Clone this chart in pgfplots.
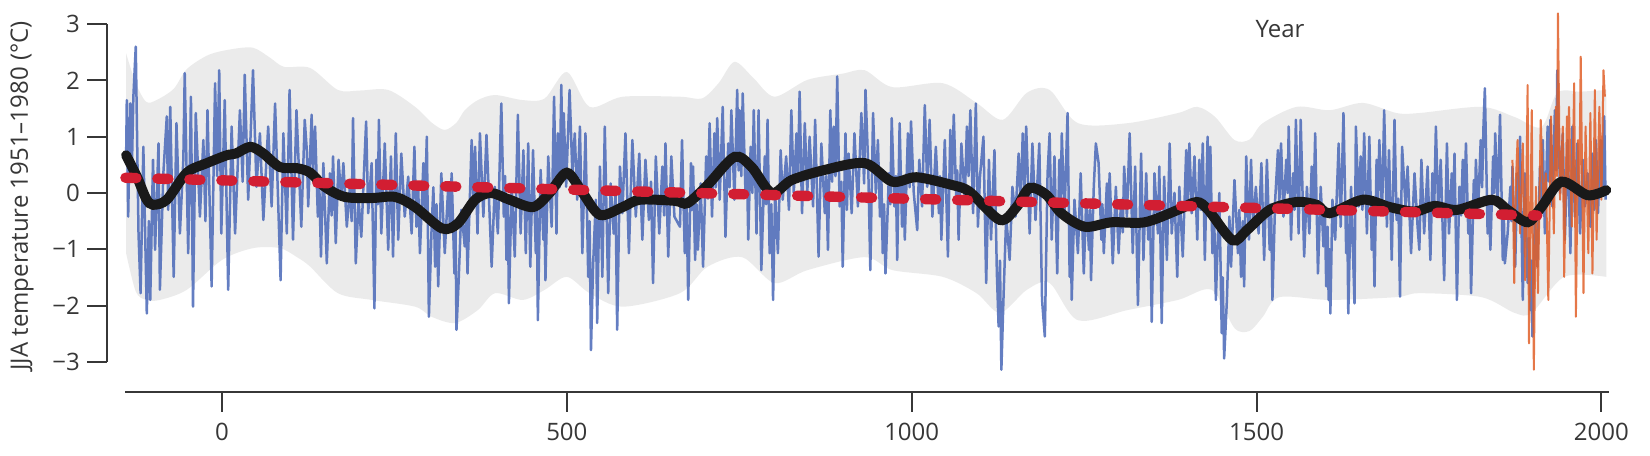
\documentclass[border=0pt]{standalone}
\usepackage{pgfplots}
\pgfplotsset{compat=1.18}
\usepgfplotslibrary{fillbetween}
\usepackage{fontspec}
\setmainfont{Open Sans}
\definecolor{txt}{RGB}{55,55,55}
\definecolor{blueline}{RGB}{78,108,186}
\definecolor{orangeline}{RGB}{225,95,40}
\definecolor{band}{RGB}{235,235,235}
\definecolor{smoothline}{RGB}{25,25,25}
\definecolor{trendred}{RGB}{210,30,50}
\begin{document}
\begin{tikzpicture}
\begin{axis}[
  scale only axis, width=751pt, height=196pt,
  xmin=-166.7, xmax=2011, ymin=-3.535, ymax=3.428,
  clip=false,
  axis lines*=left,
  axis line style={draw=none},
  tick align=outside,
  major tick length=10pt,
  every tick/.style={line width=1pt, color=txt},
  xtick={0,500,1000,1500,2000},
  xticklabels={0,500,1000,1500,2000},
  ytick={-3,-2,-1,0,1,2,3},
  yticklabels={−3,−2,−1,0,1,2,3},
  tick label style={font=\fontsize{12}{14}\selectfont, text=txt},
  xticklabel style={yshift=-2pt},
  ylabel={JJA temperature 1951–1980 (°C)},
  every axis y label/.style={at={(axis description cs:-0.0566,0.5)}, rotate=90, anchor=center, font=\fontsize{12}{14}\selectfont, text=txt},
]
% uncertainty band
\addplot[name path=upper, draw=none, smooth] coordinates {
(-139,2.48) (-125,1.95) (-110,1.62) (-95,1.65) (-70,1.85) (-51,2.20) (-20,2.45) (12,2.55) (45,2.58) (70,2.40) (90,2.24) (128,2.22) (168,1.83) (200,1.82) (241,1.83) (280,1.53) (304,1.25) (323,1.12) (340,1.25) (352,1.47) (371,1.65) (396,1.74) (436,1.65) (468,1.68) (500,2.15) (533,1.53) (581,1.71) (664,1.71) (696,1.68) (720,1.95) (743,2.33) (770,2.05) (801,1.71) (849,2.01) (900,2.12) (932,2.18) (972,1.88) (1045,1.95) (1094,1.60) (1132,1.30) (1167,1.78) (1200,1.83) (1241,1.24) (1313,1.24) (1386,1.42) (1414,1.53) (1440,1.35) (1468,0.94) (1490,0.95) (1509,1.24) (1558,1.53) (1606,1.47) (1654,1.60) (1703,1.42) (1736,1.42) (1826,1.53) (1874,1.35) (1913,1.17) (1936,1.78) (1970,1.80) (2007,1.83)
};
\addplot[name path=lower, draw=none, smooth] coordinates {
(-139,-1.07) (-125,-1.75) (-110,-1.90) (-90,-1.90) (-51,-1.72) (0,-1.19) (45,-0.98) (84,-0.98) (110,-1.15) (128,-1.31) (168,-1.78) (217,-1.90) (280,-2.02) (304,-2.20) (338,-2.31) (371,-2.08) (396,-1.78) (436,-1.90) (468,-1.72) (500,-1.49) (533,-1.78) (581,-2.02) (664,-1.78) (704,-1.31) (754,-1.14) (801,-1.60) (849,-1.37) (932,-1.14) (972,-1.37) (1045,-1.49) (1094,-1.78) (1128,-2.13) (1167,-1.72) (1200,-1.60) (1241,-2.26) (1313,-2.08) (1386,-1.90) (1435,-1.72) (1468,-2.40) (1490,-2.45) (1509,-2.20) (1533,-1.85) (1606,-1.90) (1703,-1.85) (1736,-1.78) (1826,-1.85) (1874,-2.13) (1899,-2.13) (1946,-1.49) (2007,-1.49)
};
\addplot[band, draw=none] fill between[of=upper and lower];
% reconstruction (annual)
\addplot[blueline, line width=1.25pt, opacity=0.88, line join=round] coordinates {
(-139,0.6) (-138,1.65) (-136,-0.42) (-133,1.59) (-131,0.2) (-128.5,1.7) (-125,2.60) (-121,-0.72) (-118,-1.78) (-114,0.82) (-109,-2.14) (-106,-0.5) (-104,-1.90) (-100,0.59) (-97,-1.01) (-92,0.88) (-90,-1.72) (-85,0.35) (-80,1.36) (-78,-0.3) (-75,1.53) (-70,-1.49) (-66,1.24) (-61,-0.72) (-56,0.6) (-54,2.13) (-49,-1.07) (-45,1.71) (-42,-2.02) (-38,1.42) (-32,-0.42) (-27,0.94) (-24,-0.5) (-21,1.47) (-15,-1.66) (-10,1.95) (-7,0.3) (-4,2.18) (-1,-0.72) (4,1.65) (9,-1.72) (14,1.18) (19,-0.72) (26,1.47) (30,0.2) (33,2.10) (38,-0.12) (45,2.18) (50,0.11) (55,1.06) (60,-0.48) (67,1.18) (72,-0.24) (77,1.59) (85,-1.55) (89,1.06) (94,-0.72) (98,1.83) (103,-0.83) (108,1.47) (115,-0.60) (120,1.30)
(123,0.76) (125,-0.24) (130,1.39) (132,0.3) (135,1.18) (139,-0.42) (141,0.2) (143.5,-1.13) (147,0.53) (152,-1.25) (156.5,0.35) (159,-0.4) (161,0.65) (165,-0.89) (169,0.59) (173,-0.12) (176,0.53) (181,-0.60) (185.5,0.11) (188,-0.5) (190,1.33) (194,-1.25) (198,-0.12) (202,-0.78) (209,1.27) (212,-0.36) (217,0.53) (221,-2.05) (224,0.59) (226,-0.2) (227.5,1.30) (231,-0.72) (236,0.88) (241,-1.01) (245,0.65) (248,-1.13) (252,1.06) (255.5,-0.83) (260,0.70) (265,-0.42) (270,0.29) (275,-0.72) (279,0.82) (282,-0.60) (284.5,0.1) (287,-1.07) (292,0.53) (294,-0.3) (297,1.00) (300,-2.20) (304,-0.60) (306.5,0.1) (309,-1.31) (311,-0.2) (313.5,-1.66) (318,0.35) (323,-1.07) (328,0.11) (330.5,-0.6) (333,0.35) (337,-1.43) (338.5,-0.5) (340,-2.43) (343,-1.60) (347,-0.30) (352,-0.95) (354,-0.3) (356,-1.43) (362,0.94) (364.5,-0.2) (367,0.82) (370.5,-0.72) (374,1.06) (379,-0.42) (383.5,1.03)
(391,-1.31) (395.5,0.11) (400,-0.72) (405,1.59) (408.6,-0.42) (410.5,0.3) (412.5,-1.19) (414.5,-0.2) (416,-1.96) (420,0.11) (424.5,-1.13) (429,1.39) (433,-0.72) (437,0.76) (440.5,-1.07) (444,0.88) (447,-1.31) (451,0.76) (455,-1.07) (456.5,-0.3) (458,-2.26) (462,0.41) (466,-0.83) (467.5,-0.2) (469,-1.55) (473,0.65) (478,-0.60) (481.5,1.71) (485,-0.72) (487,1.06) (489.5,0.1) (492,1.92) (494,0.3) (495.5,1.42) (499,0.11) (504,1.83) (508,0.35) (511.5,1.06) (515,-0.12) (519,1.18) (522.5,-1.07) (527,1.06) (531,-1.49) (533,-0.5) (535,-2.79) (538,-1.31) (542,-0.12) (544,-2.31) (548,0.47) (551.5,-1.49) (555,1.18) (560,-1.78) (563.5,0.17) (568,-0.72) (570.5,0.0) (573,-2.43) (577,0.47) (580.5,-0.36) (585,1.06) (590,-1.07) (595,0.94) (600,-0.42) (605,0.70) (609.5,-0.83) (614,0.59) (619,-0.48) (622,0.2) (625,-1.60) (629,0.65) (634,-0.72) (638.5,0.47) (641,-0.4) (643,0.88) (647,-1.13) (651.5,0.65) (656,-0.42)
(664,-0.60) (667,0.94) (671,-1.07) (673.5,-0.1) (676,-1.90) (680,0.53) (681.5,-0.3) (683,0.47) (686,-1.19) (688,-0.2) (690,-1.01) (694,0.17) (697.5,-1.31) (702,0.65) (704.5,-0.1) (707,1.24) (710.5,-0.42) (714,1.06) (716,0.1) (718,1.33) (721.6,-0.12) (726,1.53) (730,-0.78) (734,0.88) (736,0.1) (738.5,1.47) (743,-0.12) (747,1.83) (749,0.4) (750.6,1.47) (753,0.3) (755,1.77) (759,0) (761,0.6) (763,-0.83) (766.5,0.82) (769,0) (771,1.47) (775,-0.72) (778,1.47) (782,-1.37) (787,0.65) (789,-0.2) (791,1.30) (794,-1.07) (796.5,-0.2) (799,-1.90) (802,0) (806,-1.07) (810,0.76) (813,-0.12) (818,0.65) (822,-0.3) (825.5,1.47) (829,0) (833,1.06) (835,0.2) (837.5,1.80) (841,-0.36) (845,1.24) (848.6,0) (852,1.0) (857,-0.24) (860,1.30) (865,-1.13) (869,0.88) (874,-0.36) (876,0.3) (878.6,-1.01) (882,1.47) (884.5,0.2) (887,1.18) (889.5,0.3) (892,2.07) (895.5,-0.24) (898,0.2) (900,-1.31) (904,1.06) (906,-0.3) (908.5,0.70) (913,-0.36) (917,1.06) (922,-0.24) (927,1.42) (931,0.17)
(933,1.83) (937,0.47) (940,-1.37) (944,1.42) (948,0) (951,0.94) (954,-0.42) (956,0.3) (958,-1.07) (960,-0.2) (962,-1.43) (967,0.35) (969,-0.2) (971,1.33) (975,-0.24) (977,0.3) (979,-1.19) (982.5,1.24) (986,-0.60) (988,0.2) (990,-0.83) (994.5,1.06) (997,0.1) (999,1.27) (1003,0) (1008,-0.66) (1011,0.59) (1015,-0.24) (1019,1.56) (1022.5,0.11) (1026,1.30) (1030,-0.42) (1035,0.82) (1039.5,-0.36) (1041,0.3) (1043,-0.83) (1048,0.94) (1052.5,-1.13) (1056,1.12) (1058.5,0.2) (1061,1.39) (1064.6,-0.12) (1066,0.4) (1068,-0.83) (1072,0.88) (1077,-0.12) (1080,1.18) (1082.5,0.3) (1085,1.47) (1089,-0.36) (1093,1.59) (1096,-0.60) (1099,0.29) (1104,1.0) (1108,-1.60) (1112,0.59) (1115,-0.83) (1120,0.76) (1123.5,-1.43) (1126,-2.37) (1128,-1.2) (1130,-3.14) (1133,-1.90) (1137,-0.42) (1142,-1.19) (1146,0.11) (1150.5,-0.42) (1155,0.70) (1158,-0.2) (1161,1.06) (1163.5,0.1) (1166,1.18) (1171,-0.72) (1175,0.88) (1179.5,-0.48) (1185,0.88) (1189,-1.90) (1193,-2.55) (1197,0.35)
(1200,1.06) (1203,-0.83) (1207,0.65) (1211,-1.43) (1214,0.59) (1216,-0.1) (1217.6,1.06) (1221.5,-0.42) (1226,1.42) (1229,-1.49) (1230.5,-0.5) (1232,-1.90) (1236,-0.12) (1241,-1.07) (1245,0.35) (1249.5,-1.43) (1253,-0.12) (1257,-1.01) (1258.5,-0.3) (1260,-1.55) (1264,0.11) (1267,0.88) (1271,0.53) (1275,-0.83) (1276.5,-0.2) (1278.5,-1.07) (1283,0.17) (1285,-0.5) (1287,0.35) (1291.5,-1.25) (1296,0.11) (1300,-1.07) (1303.6,-0.12) (1306,-0.7) (1308,0.47) (1312,-0.42) (1316,1.06) (1320.5,-1.07) (1324,0.47) (1328,-1.99) (1332.6,0.70) (1336,-1.19) (1340,0.35) (1343,-0.83) (1345.5,-0.2) (1348,-2.29) (1352,0.35) (1357,-0.72) (1359,0.47) (1362.5,-2.31) (1366,0.29) (1370,-1.19) (1374,0.88) (1377,-0.72) (1381,0) (1385,-1.49) (1388,0.11) (1393,-1.13) (1398,0.76) (1400,-0.3) (1402.6,0.88) (1406,-0.36) (1410,0.65) (1414,-0.83) (1417,0.59) (1419.5,-0.3) (1422,0.88) (1425,-1.19) (1429,1.0) (1431,-0.2) (1433,0.82) (1436,-1.07) (1438.5,-0.4) (1441,-1.90) (1446,0) (1449.5,-2.49) (1451,-1.5) (1453,-2.94) (1457,-1.90) (1460.6,-0.42)
(1463,-1.31) (1468,0.23) (1473,-1.07) (1475,-0.3) (1477.5,-1.49) (1480,-0.5) (1482,-1.66) (1485,0.65) (1489,-0.83) (1492,0.59) (1495,-0.60) (1499,0.11) (1503,-0.72) (1507,0.53) (1511,-1.19) (1515,0.59) (1519,-1.01) (1521,-0.2) (1523,-1.90) (1527,-0.12) (1531,0.76) (1533,-0.2) (1535.5,0.88) (1539,-0.42) (1543,0.59) (1545,0) (1546.6,1.18) (1550,-0.83) (1553,0.35) (1555,-0.3) (1557,1.30) (1561,-0.72) (1564,1.30) (1569,-1.13) (1573,0.11) (1576.5,-0.72) (1580,0.47) (1582.5,-0.3) (1585,1.06) (1589,-1.43) (1593,0.11) (1597,-0.95) (1599,-0.3) (1601,-1.66) (1603,-0.6) (1604.5,-1.90) (1606,-1.0) (1607,-2.14) (1610,-0.12) (1614,-0.83) (1619,0.88) (1622,-0.60) (1626,1.42) (1630,-1.07) (1631.5,-0.4) (1633,-2.14) (1637,0.11) (1642,-1.96) (1644,1.18) (1648,-0.24) (1651,0.65) (1653.5,-0.3) (1656,1.06) (1660,-0.72) (1663.5,1.0) (1667,-1.01) (1669,-0.3) (1671,-1.66) (1674,0.59) (1676,-0.2) (1678,0.94) (1682,-0.36) (1685,1.47) (1689,-0.60) (1692,0.76) (1696,-1.19) (1700,1.30) (1703,-0.48) (1705.5,-0.1) (1708,-1.84) (1711,0.82) (1716,-0.24) (1719,0.47) (1724,-1.07) (1729,0.35) (1733.5,-0.60)
(1736,-1.01) (1739,0.59) (1743,-0.72) (1748,0.47) (1752,-1.19) (1755,0.35) (1757.5,-0.3) (1760,1.18) (1763.5,-0.36) (1767,0.59) (1772,-1.55) (1776,0.88) (1779,-0.72) (1783,0.35) (1785,-0.4) (1787,0.70) (1790.5,-1.90) (1794,0.11) (1796.5,-0.4) (1799,0.59) (1801,-0.2) (1803.6,0.88) (1807,-0.72) (1809,-0.3) (1811,-1.78) (1815,0.23) (1816.5,-0.3) (1818,0.59) (1821,-0.36) (1825,0.94) (1827,0.1) (1829,1.18) (1831,1.86) (1835,-0.72) (1837,-0.2) (1839,-1.01) (1843,0.65) (1844.5,0) (1846,1.06) (1849.5,-0.24) (1853,1.39) (1857,-1.19) (1858.5,-0.4) (1860,-1.25) (1864,-0.72) (1868,0.11) (1869.5,-0.5) (1871,0.47) (1875,-1.31) (1878,0.35) (1880,-0.4) (1882,1.0) (1886,-1.90) (1889,0.35) (1893,-1.60) (1895,-0.8) (1897,-2.08) (1898.5,-1.2) (1900,-2.55) (1903.5,-0.42) (1907,-1.31) (1911,0.47) (1913,-0.2) (1915,0.94) (1918,-0.72) (1922,1.18) (1924,0.2) (1926,1.30) (1929,-0.24) (1932.5,1.47) (1934.5,0.4) (1936,2.18) (1940,0) (1944,1.06) (1947,-0.83) (1951,0.94) (1955,-1.07) (1958,1.18) (1961.5,-0.42) (1965,0.88) (1969,-0.72) (1973,0.59) (1976,-0.24) (1980,0.35) (1984,-0.60) (1987,0.70) (1989.5,-0.3) (1992,0.94) (1995,-0.36) (1999,0.94) (2001.5,0) (2004,1.36) (2006,-0.12)
};
% instrumental record
\addplot[orangeline, line width=1pt, opacity=0.85, line join=round] coordinates {
(1871,0.59) (1873.6,-1.60) (1876,0.2) (1878.4,0.94) (1882,-0.72) (1886,0.88) (1889.5,-1.55) (1893,1.92) (1895,-2.67) (1899,1.47) (1902,-3.14) (1905,0.11) (1908,-1.78) (1912,1.30) (1916,-0.24) (1919.5,0.35) (1923,-1.90) (1927,1.36) (1931,-0.72) (1934,1.53) (1935.5,0.3) (1937,3.19) (1940,-0.12) (1944,1.18) (1946,-1.49) (1950,1.36) (1951.5,0.2) (1953,1.53) (1957,-0.60) (1960.5,1.95) (1963,-2.20) (1966,0.94) (1968,0.1) (1970,2.42) (1974,-1.78) (1977,1.18) (1981,-1.07) (1984,1.42) (1987,-1.43) (1990.5,1.83) (1993,-0.83) (1997,1.53) (2000,-0.12) (2003,2.18) (2005,1.71)
};
% smoothed reconstruction
\addplot[smoothline, line width=5pt, smooth, line cap=round] coordinates {
(-139,0.67) (-123,0.28) (-110,-0.1) (-100,-0.21) (-80,-0.12) (-51,0.36) (-22,0.53) (7,0.67) (20,0.7) (41,0.82) (59,0.71) (84,0.46) (109,0.44) (128,0.36) (149,0.11) (178,-0.07) (217,-0.09) (251,-0.07) (280,-0.25) (319,-0.63) (342,-0.54) (367,-0.12) (390,0.0) (417,-0.12) (451,-0.25) (475,0.0) (500,0.36) (523,0.0) (548,-0.39) (581,-0.25) (606,-0.12) (657,-0.14) (675,-0.18) (704,0.14) (743,0.64) (768,0.46) (797,0.0) (826,0.23) (874,0.41) (932,0.53) (972,0.20) (1007,0.28) (1059,0.14) (1084,0.02) (1128,-0.48) (1152,-0.25) (1171,0.09) (1195,-0.03) (1217,-0.36) (1251,-0.60) (1290,-0.52) (1338,-0.52) (1386,-0.30) (1413,-0.16) (1430,-0.30) (1465,-0.84) (1486,-0.66) (1519,-0.30) (1558,-0.16) (1587,-0.21) (1606,-0.36) (1654,-0.12) (1693,-0.25) (1729,-0.33) (1758,-0.23) (1791,-0.30) (1841,-0.12) (1864,-0.30) (1893,-0.52) (1913,-0.25) (1942,0.20) (1980,-0.04) (2007,0.05)
};
% linear trend
\addplot[trendred, line width=5.2pt, line cap=round, dash pattern=on 5.5pt off 10.5pt] coordinates {
(-140,0.27) (1907,-0.40)
};
% detached axis lines
\draw[txt, line width=1pt] (axis cs:-166.7,-3) -- (axis cs:-166.7,3);
\draw[txt, line width=1pt] (axis cs:-140,-3.535) -- (axis cs:2011,-3.535);
\node[font=\fontsize{12}{14}\selectfont, text=txt] at (axis description cs:0.781,0.926) {Year};
\end{axis}
\pgfresetboundingbox
\path ([shift={(-53.5pt,-32pt)}]current axis.south west) rectangle ([shift={(20.5pt,0pt)}]current axis.north east);
\end{tikzpicture}
\end{document}
